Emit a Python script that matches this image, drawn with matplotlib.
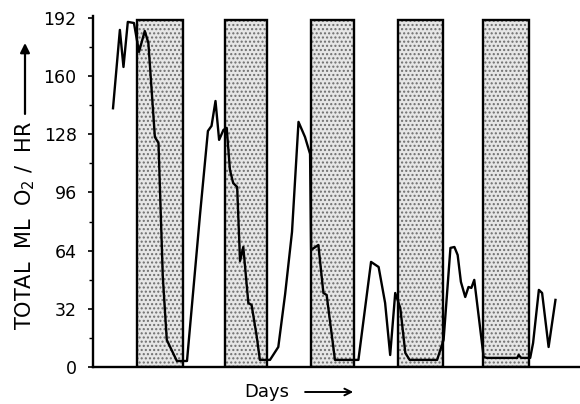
import matplotlib
matplotlib.use("Agg")
import matplotlib.pyplot as plt
from matplotlib.ticker import MultipleLocator

# Oxygen consumption record (hours from start of run, total ml O2 per hour)
hours = [5.6, 7.5, 8.5, 9.7, 11.4, 12.8, 14.4, 15.4, 17.2, 18.2, 19.4, 20.5,
         23.3, 26.1, 29.7, 31.9, 32.9, 34.0, 35.0, 36.2, 37.1, 38.0, 38.9,
         40.0, 40.8, 41.7, 43.1, 44.0, 45.4, 46.3, 49.1, 51.4, 53.3, 55.2,
         57.0, 58.8, 60.2, 60.5, 62.5, 63.9, 64.8, 67.1, 73.6, 77.1, 79.2,
         81.0, 82.4, 83.8, 85.2, 86.6, 87.8, 95.4, 97.2, 99.1, 100.2, 101.1,
         102.0, 103.2, 104.1, 104.9, 105.7, 108.3, 109.2, 117.6, 118.0, 118.7,
         121.2, 122.0, 123.6, 124.5, 126.3, 128.2]
o2 = [142.3, 185.4, 165.0, 189.8, 189.2, 173.3, 184.8, 178.2, 126.5, 123.2,
      49.5, 14.9, 3.3, 3.3, 83.6, 129.8, 132.6, 146.3, 124.9, 130.4, 131.5,
      108.4, 101.2, 99.0, 58.3, 66.0, 35.2, 34.1, 17.1, 3.9, 3.9, 11.0, 40.2,
      74.3, 134.8, 126.5, 117.2, 64.4, 67.1, 40.7, 39.6, 3.9, 3.9, 57.8, 55.0,
      35.2, 6.6, 40.7, 32.5, 7.7, 3.9, 3.9, 14.9, 65.5, 66.0, 61.6, 46.8,
      38.5, 44.0, 43.5, 47.9, 5.5, 5.0, 5.0, 6.6, 5.0, 5.0, 13.2, 42.4, 40.7,
      11.0, 36.9]

# Dark periods (hours)
dark_start = [12.2, 36.6, 60.5, 84.6, 108.2]
dark_end = [25.0, 48.3, 72.4, 97.1, 121.0]
dark_top = 191

y_ticks = [0, 32, 64, 96, 128, 160, 192]

fig = plt.figure(figsize=(5.8, 4.04), dpi=100)
ax = fig.add_axes([0.160, 0.0916, 0.84, 0.8686])

widths = [e - s for s, e in zip(dark_start, dark_end)]
tops = [dark_top] * len(dark_start)
# stippled shading of the dark periods
ax.bar(dark_start, tops, width=widths, align='edge', color='#e6e6e6',
       edgecolor='#6e6e6e', linewidth=0, hatch='....', zorder=1)
# outlines of the dark periods
ax.bar(dark_start, tops, width=widths, align='edge', fill=False,
       edgecolor='black', linewidth=1.7, zorder=2)

ax.plot(hours, o2, color='black', lw=1.7, zorder=3)

ax.set_xlim(0, 135)
ax.set_ylim(0, 193)
ax.set_yticks(y_ticks)
ax.yaxis.set_minor_locator(MultipleLocator(16))
ax.set_xticks([])
for s in ['top', 'right']:
    ax.spines[s].set_visible(False)
ax.spines['left'].set_linewidth(1.7)
ax.spines['bottom'].set_linewidth(1.7)
ax.tick_params(axis='y', which='major', length=3.6, width=1.2,
               labelsize=12.5, pad=8)
ax.tick_params(axis='y', which='minor', length=3.0, width=1.0)

# axis titles with arrows
fig.text(0.0431, 0.4430, r'TOTAL  ML  O$_2$ /  HR', rotation=90,
         ha='center', va='center', fontsize=15)
ax.annotate('', xy=(0.0431, 0.8936), xytext=(0.0431, 0.7180),
            xycoords='figure fraction', textcoords='figure fraction',
            arrowprops=dict(arrowstyle='-|>', lw=1.6, color='black',
                            mutation_scale=14, shrinkA=0, shrinkB=0))
fig.text(0.460, 0.0297, 'Days', ha='center', va='center', fontsize=13)
ax.annotate('', xy=(0.609, 0.0297), xytext=(0.526, 0.0297),
            xycoords='figure fraction', textcoords='figure fraction',
            arrowprops=dict(arrowstyle='->', lw=1.4, color='black',
                            mutation_scale=12, shrinkA=0, shrinkB=0))

fig.savefig('out.png', dpi=100)
